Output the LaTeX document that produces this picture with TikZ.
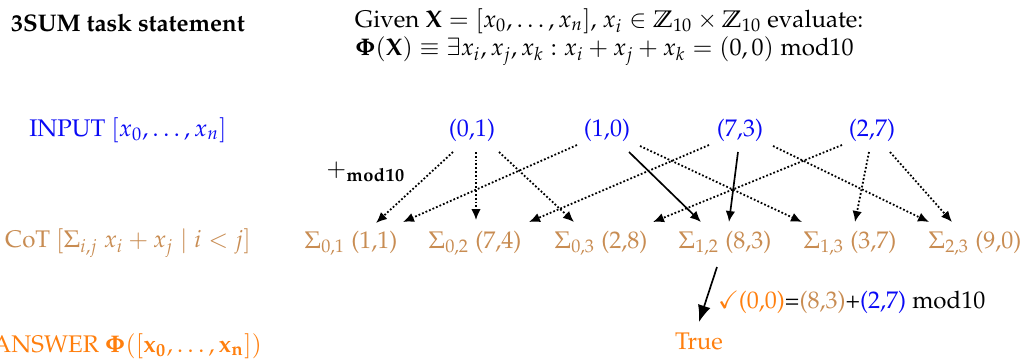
\documentclass[tikz,border=0pt]{standalone}
\usepackage[T1]{fontenc}
\usepackage{amsmath,amssymb}
\usepackage{mathpazo}
\usetikzlibrary{arrows.meta}
\definecolor{inblue}{RGB}{10,10,245}
\definecolor{cotbrown}{RGB}{200,140,82}
\definecolor{ansorange}{RGB}{255,127,14}
\begin{document}
\begin{tikzpicture}[x=0.42pt,y=-0.42pt,
  every node/.style={inner sep=0pt,outer sep=0pt,font=\fontsize{10.1}{12}\selectfont},
  innode/.style={text=inblue},
  cotnode/.style={text=cotbrown},
  dotarrow/.style={line width=0.75pt,dash pattern=on 0.75pt off 0.85pt,-{Latex[length=4.6pt,width=4pt]}},
  solarrow/.style={line width=0.7pt,-{Latex[length=4.6pt,width=4pt]}},
  bigarrow/.style={line width=0.7pt,-{Latex[length=7pt,width=5.5pt]}}]
\useasboundingbox (0,0) rectangle (1028,358);
% header
\node (title) at (128,23) {\textbf{3SUM task statement}};
\node[anchor=west] (stmt1) at (355,21) {Given $\mathbf{X}=[x_0,\dots,x_n]$, $x_i\in\mathbb{Z}_{10}\times\mathbb{Z}_{10}$ evaluate:};
\node[anchor=west] (stmt2) at (355,51) {$\boldsymbol{\Phi}(\mathbf{X})\equiv\exists x_i,x_j,x_k : x_i+x_j+x_k=(0,0)\;\mathrm{mod}10$};
% row labels
\node[innode] (inlabel) at (128,130) {INPUT $[x_0,\dots,x_n]$};
\node[cotnode] (cotlabel) at (128,243) {CoT $[\Sigma_{i,j}\ x_i+x_j\mid i<j]$};
\node[text=ansorange,anchor=east] (anslabel) at (262,346) {ANSWER $\boldsymbol{\Phi}([\mathbf{x_0,\dots,x_n}])$};
\node (plusmod) at (366,172) {$+_{\mathbf{mod10}}$};
% inputs
\node[innode] (i0) at (472,130) {(0,1)};
\node[innode] (i1) at (607,130) {(1,0)};
\node[innode] (i2) at (740,130) {(7,3)};
\node[innode] (i3) at (872,130) {(2,7)};
% coordinates for connector ends
\coordinate (i0a) at (453,152); \coordinate (i0b) at (476,152); \coordinate (i0c) at (499,152);
\coordinate (i1a) at (577,145); \coordinate (i1b) at (629,152); \coordinate (i1c) at (640,146);
\coordinate (i2a) at (709,145); \coordinate (i2b) at (738,152); \coordinate (i2c) at (773,146);
\coordinate (i3a) at (842,145); \coordinate (i3b) at (869,152); \coordinate (i3c) at (890,152);
% sums
\node[cotnode] (s01) at (351,243) {$\Sigma_{0,1}$ (1,1)};
\node[cotnode] (s02) at (475,243) {$\Sigma_{0,2}$ (7,4)};
\node[cotnode] (s03) at (601,243) {$\Sigma_{0,3}$ (2,8)};
\node[cotnode] (s12) at (725,243) {$\Sigma_{1,2}$ (8,3)};
\node[cotnode] (s13) at (850,243) {$\Sigma_{1,3}$ (3,7)};
\node[cotnode] (s23) at (975,243) {$\Sigma_{2,3}$ (9,0)};
\coordinate (s01a) at (376,223); \coordinate (s01b) at (403,222);
\coordinate (s02a) at (476,220); \coordinate (s02b) at (529,222);
\coordinate (s03a) at (574,222); \coordinate (s03b) at (653,222);
\coordinate (s12a) at (701,222); \coordinate (s12b) at (729,222);
\coordinate (s13a) at (802,222); \coordinate (s13b) at (855,222);
\coordinate (s23a) at (929,222); \coordinate (s23b) at (952,222);
% connectors
\draw[dotarrow] (i0a) -- (s01a);
\draw[dotarrow] (i0b) -- (s02a);
\draw[dotarrow] (i0c) -- (s03a);
\draw[dotarrow] (i1a) -- (s01b);
\draw[solarrow] (i1b) -- (s12a);
\draw[dotarrow] (i1c) -- (s13a);
\draw[dotarrow] (i2a) -- (s02b);
\draw[solarrow] (i2b) -- (s12b);
\draw[dotarrow] (i2c) -- (s23a);
\draw[dotarrow] (i3a) -- (s03b);
\draw[dotarrow] (i3b) -- (s13b);
\draw[dotarrow] (i3c) -- (s23b);
% answer
\node[text=ansorange] (true) at (699,341) {True};
\coordinate (s12c) at (717,267); \coordinate (truetop) at (699,322);
\draw[bigarrow] (s12c) -- (truetop);
\node[anchor=west] (check) at (718,302) {{\color{ansorange}$\checkmark$(0,0)}={\color{cotbrown}(8,3)}+{\color{inblue}(2,7)} mod10};
\end{tikzpicture}
\end{document}
